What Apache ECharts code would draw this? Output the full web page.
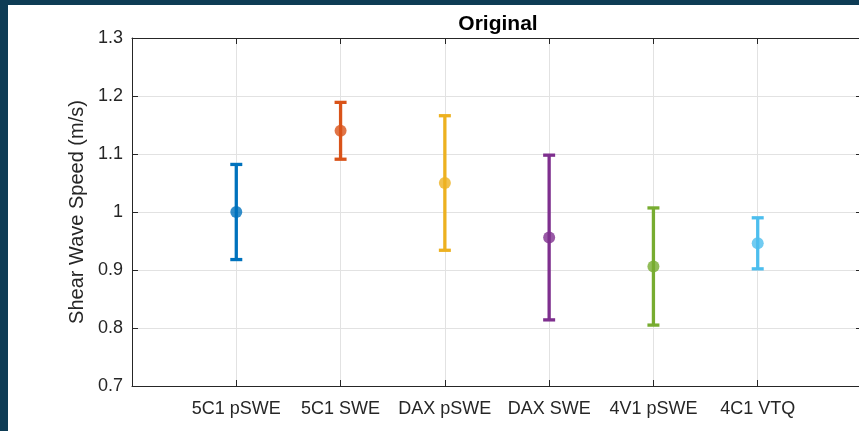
<!DOCTYPE html>
<html>
<head>
<meta charset="utf-8">
<script src="https://cdn.jsdelivr.net/npm/echarts@6/dist/echarts.min.js"></script>
<style>
html,body{margin:0;padding:0;background:#0e3c55;width:859px;height:431px;overflow:hidden;}
#chart{position:absolute;left:8px;top:5px;width:862px;height:426px;background:#ffffff;}
</style>
</head>
<body>
<div id="chart"></div>
<script>
const categories = ["5C1 pSWE", "5C1 SWE", "DAX pSWE", "DAX SWE", "4V1 pSWE", "4C1 VTQ"];
const means = [1.000, 1.140, 1.050, 0.956, 0.906, 0.946];
const errors = [0.082, 0.049, 0.116, 0.142, 0.101, 0.044];
const colors = ["#0072BD", "#D95319", "#EDB120", "#7E2F8E", "#77AC30", "#4DBEEE"];
const yTicks = [0.7, 0.8, 0.9, 1.0, 1.1, 1.2, 1.3];

const chart = echarts.init(document.getElementById('chart'), null, {renderer: 'canvas'});
const axisColor = '#262626';
const font = 'Liberation Sans, Arial, Helvetica, sans-serif';

const barData = categories.map((c, i) => [i + 1, means[i] - errors[i], means[i] + errors[i], i]);
const pointData = categories.map((c, i) => ({value: [i + 1, means[i]], itemStyle: {color: colors[i]}}));

chart.setOption({
  animation: false,
  title: {
    text: 'Original', left: 485, top: 4, textAlign: 'center',
    textStyle: {fontFamily: font, fontSize: 21, fontWeight: 'bold', color: '#000000'}
  },
  grid: {left: 124, width: 730, top: 33, bottom: 45, containLabel: false},
  xAxis: [{
    type: 'value', min: 0, max: 7, interval: 1, position: 'bottom',
    axisLine: {show: true, onZero: false, lineStyle: {color: axisColor, width: 1}},
    axisTick: {show: true, inside: true, length: 6, lineStyle: {color: axisColor}},
    splitLine: {show: true, lineStyle: {color: '#e2e2e2', width: 1}},
    axisLabel: {
      fontFamily: font, fontSize: 18, color: axisColor, margin: 14,
      showMinLabel: true, showMaxLabel: true,
      formatter: v => (v >= 1 && v <= categories.length) ? categories[v - 1] : ''
    }
  }, {
    type: 'value', min: 0, max: 7, interval: 1, position: 'top',
    axisLine: {show: true, onZero: false, lineStyle: {color: axisColor, width: 1}},
    axisTick: {show: true, inside: true, length: 6, lineStyle: {color: axisColor}},
    splitLine: {show: false}, axisLabel: {show: false}
  }],
  yAxis: [{
    type: 'value', min: yTicks[0], max: yTicks[yTicks.length - 1], interval: 0.1, position: 'left',
    name: 'Shear Wave Speed (m/s)', nameLocation: 'middle', nameGap: 43, nameRotate: 90,
    nameTextStyle: {fontFamily: font, fontSize: 20, color: axisColor},
    axisLine: {show: true, onZero: false, lineStyle: {color: axisColor, width: 1}},
    axisTick: {show: true, inside: true, length: 6, lineStyle: {color: axisColor}},
    splitLine: {show: true, lineStyle: {color: '#e2e2e2', width: 1}},
    axisLabel: {fontFamily: font, fontSize: 18, color: axisColor, margin: 9,
      formatter: v => String(Math.round(v * 10) / 10)}
  }, {
    type: 'value', min: yTicks[0], max: yTicks[yTicks.length - 1], interval: 0.1, position: 'right',
    axisLine: {show: true, onZero: false, lineStyle: {color: axisColor, width: 1}},
    axisTick: {show: true, inside: true, length: 6, lineStyle: {color: axisColor}},
    splitLine: {show: false}, axisLabel: {show: false}
  }],
  series: [{
    type: 'custom',
    xAxisIndex: 0, yAxisIndex: 0,
    data: barData,
    renderItem: function (params, api) {
      const x = api.value(0);
      const lo = api.coord([x, api.value(1)]);
      const hi = api.coord([x, api.value(2)]);
      const col = colors[api.value(3)];
      const cap = 6;
      const style = {stroke: col, lineWidth: 3.3, lineCap: 'butt'};
      return {
        type: 'group',
        children: [
          {type: 'line', shape: {x1: lo[0], y1: lo[1], x2: hi[0], y2: hi[1]}, style: style},
          {type: 'line', shape: {x1: lo[0] - cap, y1: lo[1], x2: lo[0] + cap, y2: lo[1]}, style: style},
          {type: 'line', shape: {x1: hi[0] - cap, y1: hi[1], x2: hi[0] + cap, y2: hi[1]}, style: style}
        ]
      };
    },
    z: 2
  }, {
    type: 'scatter',
    xAxisIndex: 0, yAxisIndex: 0,
    symbol: 'circle', symbolSize: 12,
    data: pointData,
    z: 3
  }]
});
</script>
</body>
</html>
